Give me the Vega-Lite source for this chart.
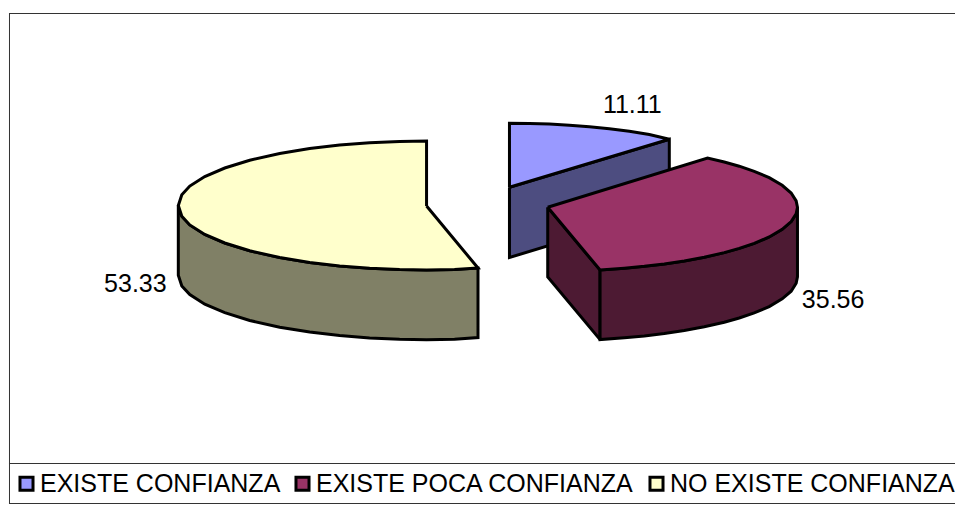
{"$schema":"https://vega.github.io/schema/vega-lite/v6.json","width":956,"height":505,"autosize":{"type":"fit","contains":"padding"},"padding":0,"background":"white","view":{"stroke":null},
"config":{"font":"Liberation Sans"},
"layer":[
{"data":{"values":[
{"x":9,"x2":956,"y":13.5,"y2":13.5},{"x":9.5,"x2":9.5,"y":13.5,"y2":503.5},{"x":9,"x2":956,"y":463.5,"y2":463.5},{"x":9,"x2":956,"y":503.5,"y2":503.5}]},
"mark":{"type":"rule","stroke":"#333333","strokeWidth":1},
"encoding":{"x":{"field":"x","type":"quantitative","scale":{"domain":[0,956],"nice":false,"zero":false},"axis":null},"x2":{"field":"x2"},"y":{"field":"y","type":"quantitative","scale":{"domain":[505,0],"nice":false,"zero":false},"axis":null},"y2":{"field":"y2"}}},
{"data":{"values":[
{"cara":"a1","serie":"EXISTE CONFIANZA lado","n":1,"x":510,"y":187.3},{"cara":"a1","serie":"EXISTE CONFIANZA lado","n":2,"x":670,"y":139.3},{"cara":"a1","serie":"EXISTE CONFIANZA lado","n":3,"x":670,"y":209},{"cara":"a1","serie":"EXISTE CONFIANZA lado","n":4,"x":510,"y":257.5},{"cara":"a1","serie":"EXISTE CONFIANZA lado","n":5,"x":510,"y":187.3},
{"cara":"a2","serie":"EXISTE CONFIANZA","n":1,"x":510,"y":187.3},{"cara":"a2","serie":"EXISTE CONFIANZA","n":2,"x":510,"y":123.3},{"cara":"a2","serie":"EXISTE CONFIANZA","n":3,"x":530,"y":123.5},{"cara":"a2","serie":"EXISTE CONFIANZA","n":4,"x":550,"y":124.1},{"cara":"a2","serie":"EXISTE CONFIANZA","n":5,"x":570,"y":125.2},{"cara":"a2","serie":"EXISTE CONFIANZA","n":6,"x":590,"y":126.8},{"cara":"a2","serie":"EXISTE CONFIANZA","n":7,"x":610,"y":128.7},{"cara":"a2","serie":"EXISTE CONFIANZA","n":8,"x":630,"y":131.3},{"cara":"a2","serie":"EXISTE CONFIANZA","n":9,"x":650,"y":134.5},{"cara":"a2","serie":"EXISTE CONFIANZA","n":10,"x":670,"y":139.3},{"cara":"a2","serie":"EXISTE CONFIANZA","n":11,"x":510,"y":187.3},
{"cara":"c1","serie":"NO EXISTE CONFIANZA lado","n":1,"x":178.5,"y":205.5},{"cara":"c1","serie":"NO EXISTE CONFIANZA lado","n":2,"x":182,"y":216.3},{"cara":"c1","serie":"NO EXISTE CONFIANZA lado","n":3,"x":190,"y":224.9},{"cara":"c1","serie":"NO EXISTE CONFIANZA lado","n":4,"x":205,"y":234.5},{"cara":"c1","serie":"NO EXISTE CONFIANZA lado","n":5,"x":225,"y":243},{"cara":"c1","serie":"NO EXISTE CONFIANZA lado","n":6,"x":250,"y":250.8},{"cara":"c1","serie":"NO EXISTE CONFIANZA lado","n":7,"x":280,"y":257.5},{"cara":"c1","serie":"NO EXISTE CONFIANZA lado","n":8,"x":310,"y":262.4},{"cara":"c1","serie":"NO EXISTE CONFIANZA lado","n":9,"x":340,"y":265.9},{"cara":"c1","serie":"NO EXISTE CONFIANZA lado","n":10,"x":370,"y":268.3},{"cara":"c1","serie":"NO EXISTE CONFIANZA lado","n":11,"x":400,"y":269.6},{"cara":"c1","serie":"NO EXISTE CONFIANZA lado","n":12,"x":427,"y":270},{"cara":"c1","serie":"NO EXISTE CONFIANZA lado","n":13,"x":455,"y":269.6},{"cara":"c1","serie":"NO EXISTE CONFIANZA lado","n":14,"x":478.5,"y":268},{"cara":"c1","serie":"NO EXISTE CONFIANZA lado","n":15,"x":478.5,"y":337.5},{"cara":"c1","serie":"NO EXISTE CONFIANZA lado","n":16,"x":455,"y":339.3},{"cara":"c1","serie":"NO EXISTE CONFIANZA lado","n":17,"x":427,"y":339.7},{"cara":"c1","serie":"NO EXISTE CONFIANZA lado","n":18,"x":400,"y":339.3},{"cara":"c1","serie":"NO EXISTE CONFIANZA lado","n":19,"x":370,"y":338},{"cara":"c1","serie":"NO EXISTE CONFIANZA lado","n":20,"x":340,"y":335.6},{"cara":"c1","serie":"NO EXISTE CONFIANZA lado","n":21,"x":310,"y":332.1},{"cara":"c1","serie":"NO EXISTE CONFIANZA lado","n":22,"x":280,"y":327.2},{"cara":"c1","serie":"NO EXISTE CONFIANZA lado","n":23,"x":250,"y":320.5},{"cara":"c1","serie":"NO EXISTE CONFIANZA lado","n":24,"x":225,"y":312.7},{"cara":"c1","serie":"NO EXISTE CONFIANZA lado","n":25,"x":205,"y":304.2},{"cara":"c1","serie":"NO EXISTE CONFIANZA lado","n":26,"x":190,"y":294.6},{"cara":"c1","serie":"NO EXISTE CONFIANZA lado","n":27,"x":182,"y":286},{"cara":"c1","serie":"NO EXISTE CONFIANZA lado","n":28,"x":178.5,"y":275.2},{"cara":"c1","serie":"NO EXISTE CONFIANZA lado","n":29,"x":178.5,"y":205.5},
{"cara":"c2","serie":"NO EXISTE CONFIANZA","n":1,"x":427,"y":206},{"cara":"c2","serie":"NO EXISTE CONFIANZA","n":2,"x":427,"y":141},{"cara":"c2","serie":"NO EXISTE CONFIANZA","n":3,"x":400,"y":141.4},{"cara":"c2","serie":"NO EXISTE CONFIANZA","n":4,"x":370,"y":142.7},{"cara":"c2","serie":"NO EXISTE CONFIANZA","n":5,"x":340,"y":145.1},{"cara":"c2","serie":"NO EXISTE CONFIANZA","n":6,"x":310,"y":148.6},{"cara":"c2","serie":"NO EXISTE CONFIANZA","n":7,"x":280,"y":153.5},{"cara":"c2","serie":"NO EXISTE CONFIANZA","n":8,"x":250,"y":160.2},{"cara":"c2","serie":"NO EXISTE CONFIANZA","n":9,"x":225,"y":168},{"cara":"c2","serie":"NO EXISTE CONFIANZA","n":10,"x":205,"y":176.5},{"cara":"c2","serie":"NO EXISTE CONFIANZA","n":11,"x":190,"y":186.1},{"cara":"c2","serie":"NO EXISTE CONFIANZA","n":12,"x":182,"y":194.7},{"cara":"c2","serie":"NO EXISTE CONFIANZA","n":13,"x":178.5,"y":205.5},{"cara":"c2","serie":"NO EXISTE CONFIANZA","n":14,"x":182,"y":216.3},{"cara":"c2","serie":"NO EXISTE CONFIANZA","n":15,"x":190,"y":224.9},{"cara":"c2","serie":"NO EXISTE CONFIANZA","n":16,"x":205,"y":234.5},{"cara":"c2","serie":"NO EXISTE CONFIANZA","n":17,"x":225,"y":243},{"cara":"c2","serie":"NO EXISTE CONFIANZA","n":18,"x":250,"y":250.8},{"cara":"c2","serie":"NO EXISTE CONFIANZA","n":19,"x":280,"y":257.5},{"cara":"c2","serie":"NO EXISTE CONFIANZA","n":20,"x":310,"y":262.4},{"cara":"c2","serie":"NO EXISTE CONFIANZA","n":21,"x":340,"y":265.9},{"cara":"c2","serie":"NO EXISTE CONFIANZA","n":22,"x":370,"y":268.3},{"cara":"c2","serie":"NO EXISTE CONFIANZA","n":23,"x":400,"y":269.6},{"cara":"c2","serie":"NO EXISTE CONFIANZA","n":24,"x":427,"y":270},{"cara":"c2","serie":"NO EXISTE CONFIANZA","n":25,"x":455,"y":269.6},{"cara":"c2","serie":"NO EXISTE CONFIANZA","n":26,"x":478.5,"y":268},{"cara":"c2","serie":"NO EXISTE CONFIANZA","n":27,"x":427,"y":206},
{"cara":"b1","serie":"EXISTE POCA CONFIANZA lado","n":1,"x":548.3,"y":207.3},{"cara":"b1","serie":"EXISTE POCA CONFIANZA lado","n":2,"x":600.7,"y":270},{"cara":"b1","serie":"EXISTE POCA CONFIANZA lado","n":3,"x":600.7,"y":339.6},{"cara":"b1","serie":"EXISTE POCA CONFIANZA lado","n":4,"x":548.3,"y":277},{"cara":"b1","serie":"EXISTE POCA CONFIANZA lado","n":5,"x":548.3,"y":207.3},
{"cara":"b2","serie":"EXISTE POCA CONFIANZA lado","n":1,"x":600.7,"y":270},{"cara":"b2","serie":"EXISTE POCA CONFIANZA lado","n":2,"x":625,"y":268.2},{"cara":"b2","serie":"EXISTE POCA CONFIANZA lado","n":3,"x":645,"y":266.3},{"cara":"b2","serie":"EXISTE POCA CONFIANZA lado","n":4,"x":665,"y":263.9},{"cara":"b2","serie":"EXISTE POCA CONFIANZA lado","n":5,"x":685,"y":260.9},{"cara":"b2","serie":"EXISTE POCA CONFIANZA lado","n":6,"x":705,"y":257.2},{"cara":"b2","serie":"EXISTE POCA CONFIANZA lado","n":7,"x":725,"y":252.6},{"cara":"b2","serie":"EXISTE POCA CONFIANZA lado","n":8,"x":740,"y":248.4},{"cara":"b2","serie":"EXISTE POCA CONFIANZA lado","n":9,"x":755,"y":243.3},{"cara":"b2","serie":"EXISTE POCA CONFIANZA lado","n":10,"x":770,"y":237},{"cara":"b2","serie":"EXISTE POCA CONFIANZA lado","n":11,"x":783,"y":229.3},{"cara":"b2","serie":"EXISTE POCA CONFIANZA lado","n":12,"x":792,"y":221.6},{"cara":"b2","serie":"EXISTE POCA CONFIANZA lado","n":13,"x":797,"y":213.7},{"cara":"b2","serie":"EXISTE POCA CONFIANZA lado","n":14,"x":798.3,"y":207.3},{"cara":"b2","serie":"EXISTE POCA CONFIANZA lado","n":15,"x":798.3,"y":276.9},{"cara":"b2","serie":"EXISTE POCA CONFIANZA lado","n":16,"x":797,"y":283.3},{"cara":"b2","serie":"EXISTE POCA CONFIANZA lado","n":17,"x":792,"y":291.2},{"cara":"b2","serie":"EXISTE POCA CONFIANZA lado","n":18,"x":783,"y":298.9},{"cara":"b2","serie":"EXISTE POCA CONFIANZA lado","n":19,"x":770,"y":306.6},{"cara":"b2","serie":"EXISTE POCA CONFIANZA lado","n":20,"x":755,"y":312.9},{"cara":"b2","serie":"EXISTE POCA CONFIANZA lado","n":21,"x":740,"y":318},{"cara":"b2","serie":"EXISTE POCA CONFIANZA lado","n":22,"x":725,"y":322.2},{"cara":"b2","serie":"EXISTE POCA CONFIANZA lado","n":23,"x":705,"y":326.8},{"cara":"b2","serie":"EXISTE POCA CONFIANZA lado","n":24,"x":685,"y":330.5},{"cara":"b2","serie":"EXISTE POCA CONFIANZA lado","n":25,"x":665,"y":333.5},{"cara":"b2","serie":"EXISTE POCA CONFIANZA lado","n":26,"x":645,"y":335.9},{"cara":"b2","serie":"EXISTE POCA CONFIANZA lado","n":27,"x":625,"y":337.8},{"cara":"b2","serie":"EXISTE POCA CONFIANZA lado","n":28,"x":600.7,"y":339.6},{"cara":"b2","serie":"EXISTE POCA CONFIANZA lado","n":29,"x":600.7,"y":270},
{"cara":"b3","serie":"EXISTE POCA CONFIANZA","n":1,"x":548.3,"y":207.3},{"cara":"b3","serie":"EXISTE POCA CONFIANZA","n":2,"x":708.3,"y":158},{"cara":"b3","serie":"EXISTE POCA CONFIANZA","n":3,"x":725,"y":162},{"cara":"b3","serie":"EXISTE POCA CONFIANZA","n":4,"x":740,"y":166.2},{"cara":"b3","serie":"EXISTE POCA CONFIANZA","n":5,"x":755,"y":171.3},{"cara":"b3","serie":"EXISTE POCA CONFIANZA","n":6,"x":770,"y":177.7},{"cara":"b3","serie":"EXISTE POCA CONFIANZA","n":7,"x":783,"y":185.3},{"cara":"b3","serie":"EXISTE POCA CONFIANZA","n":8,"x":792,"y":193},{"cara":"b3","serie":"EXISTE POCA CONFIANZA","n":9,"x":797,"y":200.9},{"cara":"b3","serie":"EXISTE POCA CONFIANZA","n":10,"x":798.3,"y":207.3},{"cara":"b3","serie":"EXISTE POCA CONFIANZA","n":11,"x":797,"y":213.7},{"cara":"b3","serie":"EXISTE POCA CONFIANZA","n":12,"x":792,"y":221.6},{"cara":"b3","serie":"EXISTE POCA CONFIANZA","n":13,"x":783,"y":229.3},{"cara":"b3","serie":"EXISTE POCA CONFIANZA","n":14,"x":770,"y":237},{"cara":"b3","serie":"EXISTE POCA CONFIANZA","n":15,"x":755,"y":243.3},{"cara":"b3","serie":"EXISTE POCA CONFIANZA","n":16,"x":740,"y":248.4},{"cara":"b3","serie":"EXISTE POCA CONFIANZA","n":17,"x":725,"y":252.6},{"cara":"b3","serie":"EXISTE POCA CONFIANZA","n":18,"x":705,"y":257.2},{"cara":"b3","serie":"EXISTE POCA CONFIANZA","n":19,"x":685,"y":260.9},{"cara":"b3","serie":"EXISTE POCA CONFIANZA","n":20,"x":665,"y":263.9},{"cara":"b3","serie":"EXISTE POCA CONFIANZA","n":21,"x":645,"y":266.3},{"cara":"b3","serie":"EXISTE POCA CONFIANZA","n":22,"x":625,"y":268.2},{"cara":"b3","serie":"EXISTE POCA CONFIANZA","n":23,"x":600.7,"y":270},{"cara":"b3","serie":"EXISTE POCA CONFIANZA","n":24,"x":548.3,"y":207.3}
]},
"mark":{"type":"line","stroke":"black","strokeWidth":3,"strokeJoin":"miter","strokeMiterLimit":2.5},
"encoding":{"x":{"field":"x","type":"quantitative","scale":{"domain":[0,956],"nice":false,"zero":false},"axis":null},"y":{"field":"y","type":"quantitative","scale":{"domain":[505,0],"nice":false,"zero":false},"axis":null},"order":{"field":"n","type":"quantitative"},"detail":{"field":"cara"},
"fill":{"field":"serie","type":"nominal","scale":{"domain":["EXISTE CONFIANZA","EXISTE POCA CONFIANZA","NO EXISTE CONFIANZA","EXISTE CONFIANZA lado","EXISTE POCA CONFIANZA lado","NO EXISTE CONFIANZA lado"],"range":["#9999FF","#993366","#FFFFCC","#4D4D80","#4D1A33","#808066"]},
"legend":{"values":["EXISTE CONFIANZA","EXISTE POCA CONFIANZA","NO EXISTE CONFIANZA"],"title":null,"orient":"none","legendX":14,"legendY":471,"direction":"horizontal","columns":3,"columnPadding":8,"symbolType":"square","symbolSize":170,"symbolStrokeColor":"black","symbolStrokeWidth":3,"symbolOpacity":1,"labelFont":"Liberation Sans","labelFontSize":25,"labelColor":"black","labelOffset":1,"labelLimit":400}}}},
{"data":{"values":[{"valor":"11.11","x":633,"y":104.5},{"valor":"35.56","x":834,"y":300},{"valor":"53.33","x":135.5,"y":283.5}]},
"mark":{"type":"text","font":"Liberation Sans","fontSize":25,"color":"black","align":"center","baseline":"middle"},
"encoding":{"x":{"field":"x","type":"quantitative","scale":{"domain":[0,956],"nice":false,"zero":false},"axis":null},"y":{"field":"y","type":"quantitative","scale":{"domain":[505,0],"nice":false,"zero":false},"axis":null},"text":{"field":"valor"}}}
]}
